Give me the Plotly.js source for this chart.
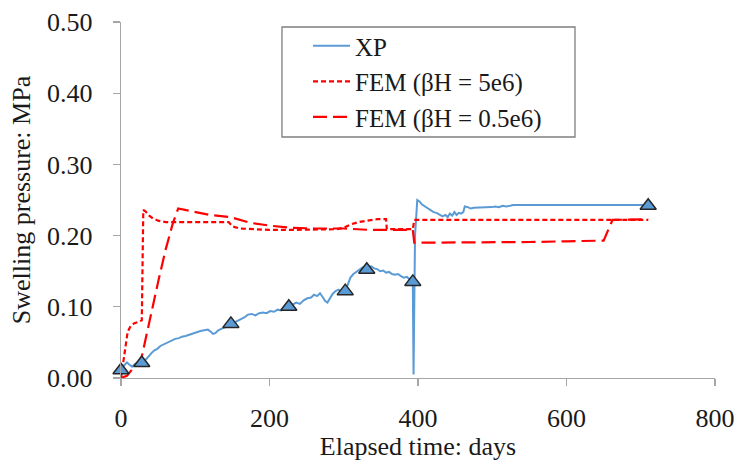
<!DOCTYPE html>
<html>
<head>
<meta charset="utf-8">
<script src="https://cdn.plot.ly/plotly-3.0.1.min.js"></script>
<style>html,body{margin:0;padding:0;background:#fff;}#chart{width:739px;height:464px;}</style>
</head>
<body>
<div id="chart"></div>
<script>
// Measured data (XP) - days / MPa
const xpT = [0,3,6,8,11,15,18,22,25,28,31,34,37,41,45,49,53,57,61,65,69,73,78,82,87,92,97,102,107,112,117,121,124,127,131,135,140,145,149,153,157,161,166,171,176,181,186,191,196,201,206,211,216,221,226,231,236,241,246,251,256,260,264,268,272,275,278,281,285,289,293,297,301,305,309,313,317,321,325,329,333,337,341,345,349,353,357,361,365,369,373,377,381,385,389,393,394,396,399,402,405,409,413,417,421,425,429,433,437,440,443,446,449,452,455,458,461,463,467,471,475,479,484,489,494,499,504,509,514,519,524,528,710];
const xpP = [0.013,0.017,0.020,0.022,0.019,0.016,0.019,0.022,0.020,0.019,0.023,0.027,0.031,0.035,0.039,0.041,0.045,0.047,0.049,0.052,0.053,0.055,0.056,0.058,0.059,0.061,0.063,0.064,0.066,0.067,0.068,0.065,0.062,0.063,0.067,0.069,0.071,0.073,0.075,0.078,0.080,0.083,0.085,0.089,0.090,0.088,0.091,0.092,0.091,0.094,0.093,0.096,0.095,0.098,0.100,0.103,0.106,0.104,0.109,0.112,0.113,0.117,0.115,0.119,0.113,0.108,0.106,0.112,0.118,0.122,0.124,0.121,0.123,0.130,0.141,0.146,0.149,0.153,0.155,0.157,0.156,0.157,0.154,0.153,0.150,0.151,0.148,0.149,0.146,0.145,0.146,0.143,0.141,0.142,0.138,0.135,0.005,0.200,0.250,0.248,0.244,0.241,0.238,0.236,0.233,0.232,0.229,0.227,0.229,0.226,0.231,0.228,0.233,0.229,0.232,0.231,0.233,0.241,0.240,0.238,0.239,0.239,0.240,0.239,0.240,0.240,0.241,0.240,0.242,0.241,0.242,0.243,0.243];

// XP marker points
const mkT = [0,28,148,226,302,331,393,710];
const mkP = [0.011,0.021,0.076,0.100,0.122,0.152,0.135,0.242];

// FEM (betaH = 5e6)
const fem1T = [0,2,4,6,9,13,18,24,28,30,33,38,43,50,60,80,100,120,145,150,160,180,200,230,260,290,300,310,320,331,345,357,358,375,393,395,710];
const fem1P = [0,0.015,0.035,0.050,0.065,0.073,0.077,0.079,0.081,0.236,0.234,0.228,0.224,0.221,0.219,0.219,0.219,0.219,0.219,0.213,0.210,0.209,0.208,0.208,0.209,0.209,0.211,0.216,0.219,0.221,0.223,0.223,0.209,0.209,0.209,0.222,0.222];

// FEM (betaH = 0.5e6)
const fem2T = [0,8,15,22,28,32,40,50,60,70,77,90,120,147,160,174,200,230,260,300,335,393,395,450,500,550,600,650,662,710];
const fem2P = [0,0.003,0.012,0.020,0.030,0.050,0.090,0.135,0.180,0.218,0.238,0.235,0.229,0.226,0.222,0.218,0.214,0.211,0.210,0.210,0.208,0.208,0.190,0.190,0.191,0.191,0.192,0.193,0.222,0.223];

const names = ['XP', 'FEM (βH = 5e6)', 'FEM (βH = 0.5e6)'];
const xTicks = [0,200,400,600,800];
const yTicks = [0,0.1,0.2,0.3,0.4,0.5];

const FONT = 'Liberation Serif, Times New Roman, serif';
const TXT = '#1a1a1a';
const AX = '#a6a6a6';

const traces = [
  {x: xpT, y: xpP, mode: 'lines', name: names[0],
   line: {color: '#5b9bd5', width: 2}},
  {x: fem1T, y: fem1P, mode: 'lines', name: names[1],
   line: {color: '#ff0000', width: 2.2, dash: '5px,3px'}},
  {x: fem2T, y: fem2P, mode: 'lines', name: names[2],
   line: {color: '#ff0000', width: 2.2, dash: '14px,6px'}},
  {x: mkT, y: mkP, mode: 'markers', showlegend: false, cliponaxis: false,
   marker: {symbol: 'triangle-up', size: 14, color: '#5b9bd5', line: {color: '#262626', width: 1.5}}}
];

const layout = {
  width: 739, height: 464,
  margin: {l: 121, r: 24, t: 22, b: 86},
  paper_bgcolor: '#fff', plot_bgcolor: '#fff',
  font: {family: FONT, size: 26, color: TXT},
  showlegend: true,
  legend: {x: 0.3148, y: 0.997, xanchor: 'left', yanchor: 'top',
    bgcolor: 'rgba(0,0,0,0)', borderwidth: 0, itemwidth: 37,
    font: {family: FONT, size: 25, color: TXT}},
  shapes: [{type: 'rect', xref: 'paper', yref: 'paper', x0: 0.271, x1: 0.7643, y0: 0.677, y1: 0.986,
    line: {color: '#7f7f7f', width: 1.3}, fillcolor: 'rgba(0,0,0,0)', layer: 'above'}],
  xaxis: {range: [0, 800], tickvals: xTicks, ticktext: xTicks.map(String),
    showgrid: false, zeroline: false, showline: true, linecolor: AX, linewidth: 1.3,
    ticks: 'outside', ticklen: 7, tickcolor: AX, tickwidth: 1.3, ticklabelstandoff: 9,
    tickfont: {family: FONT, size: 26, color: TXT},
    title: {text: 'Elapsed time: days', font: {family: FONT, size: 26, color: TXT}, standoff: 2}},
  yaxis: {range: [0, 0.5], tickvals: yTicks, ticktext: yTicks.map(v => v.toFixed(2)),
    showgrid: false, zeroline: false, showline: true, linecolor: AX, linewidth: 1.3,
    ticks: 'outside', ticklen: 7, tickcolor: AX, tickwidth: 1.3, ticklabelstandoff: 15,
    tickfont: {family: FONT, size: 26, color: TXT},
    title: {text: 'Swelling pressure: MPa', font: {family: FONT, size: 26, color: TXT}, standoff: 9}}
};

Plotly.newPlot('chart', traces, layout, {displayModeBar: false, staticPlot: true});
</script>
</body>
</html>
